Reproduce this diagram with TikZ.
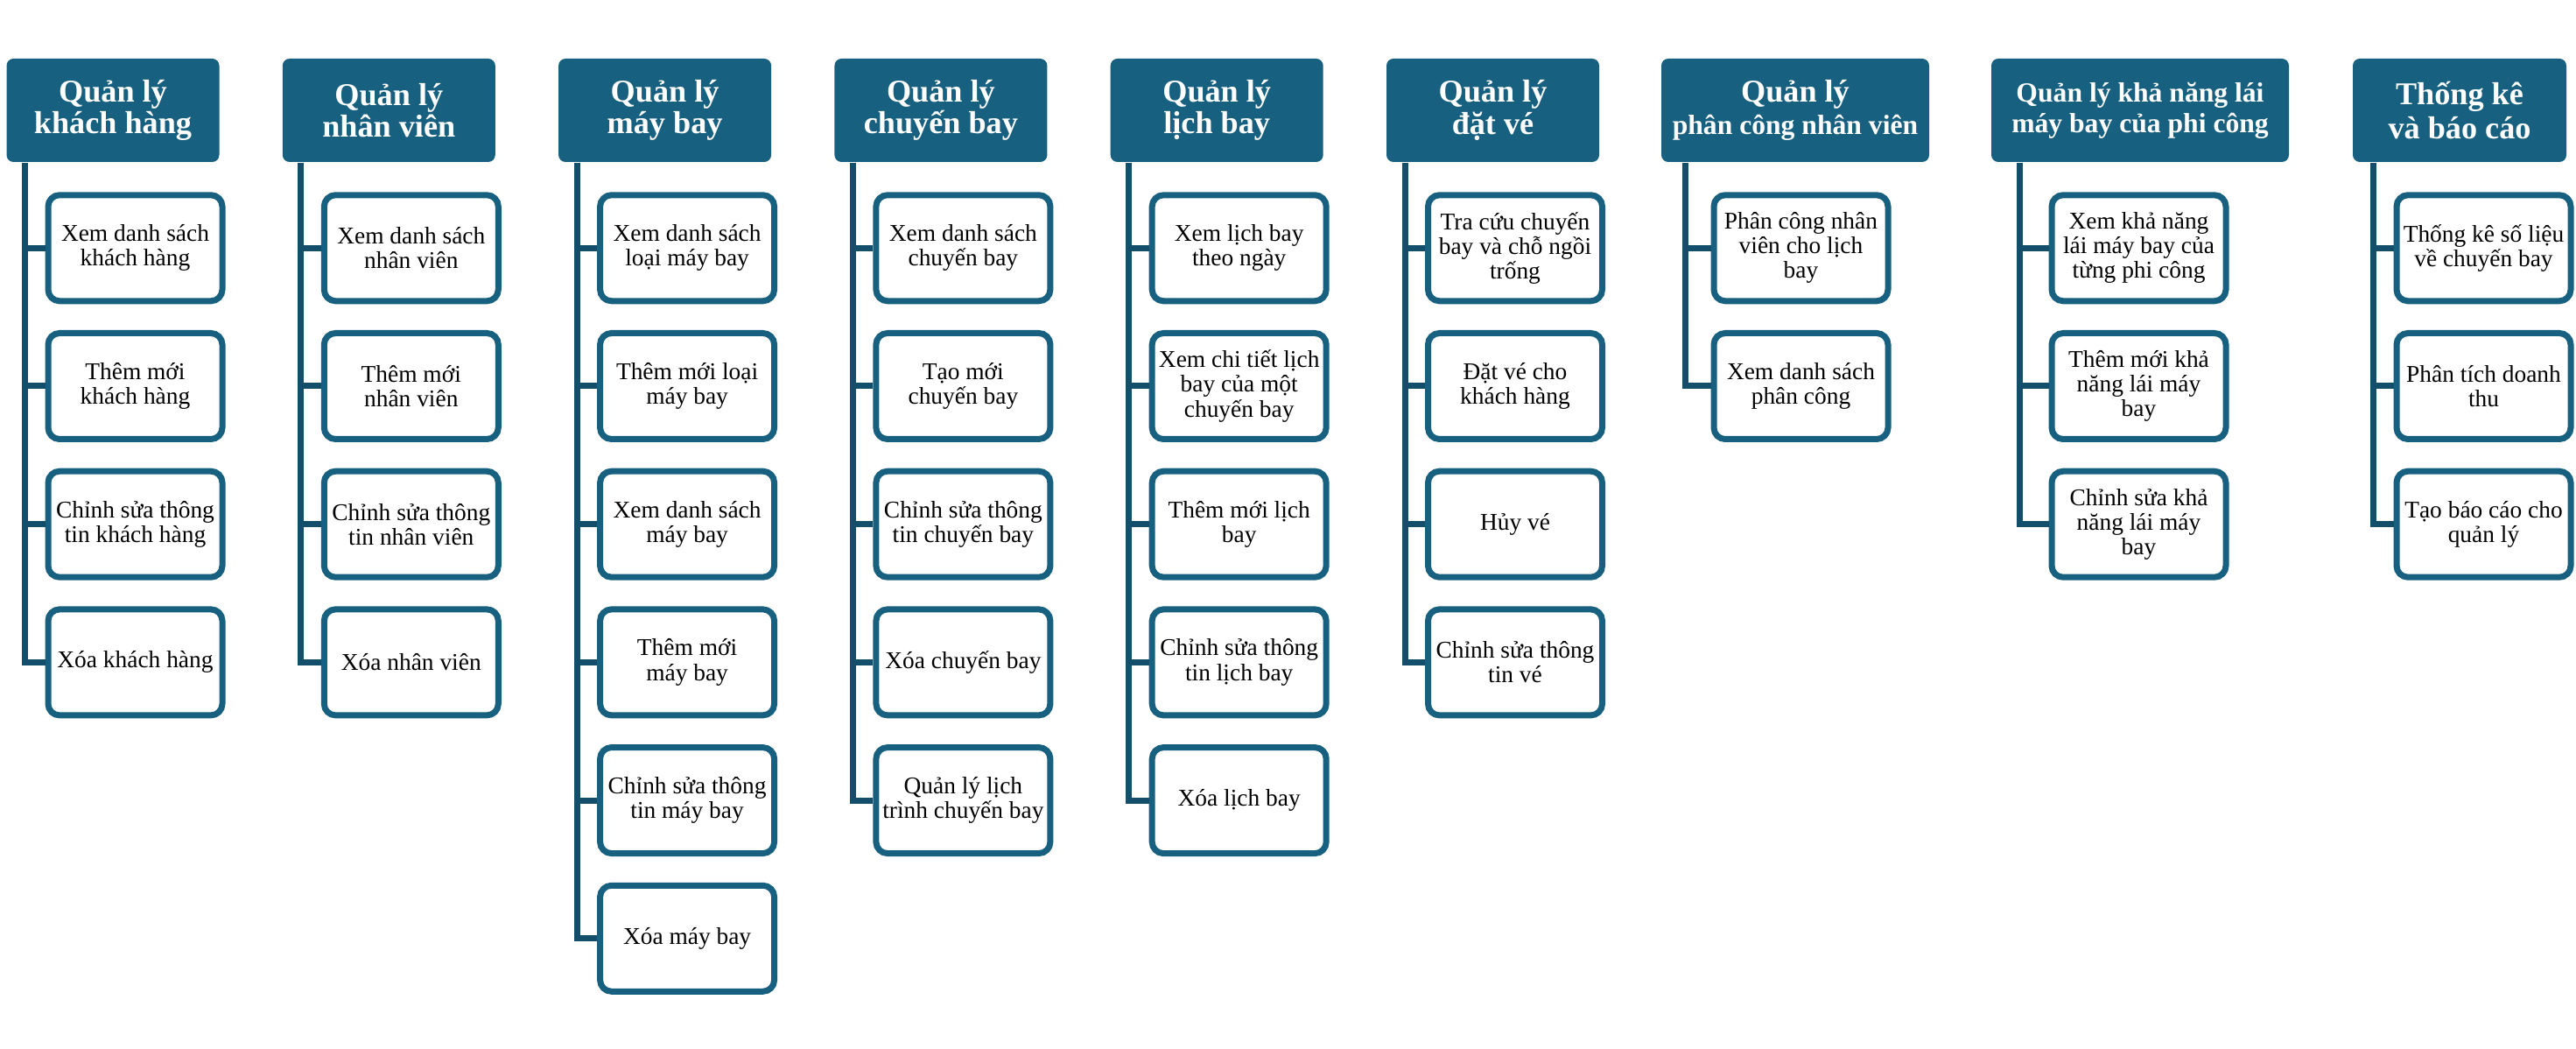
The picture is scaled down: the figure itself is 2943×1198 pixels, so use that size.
\documentclass[tikz,border=0pt]{standalone}
\usepackage{fontspec}
\setmainfont{Liberation Serif}
\definecolor{hdblue}{RGB}{24,96,128}
\definecolor{lnblue}{RGB}{19,78,106}

\begin{document}
\begin{tikzpicture}[x=0.1mm,y=-0.1mm,
		head/.style={fill=hdblue,text=white,rounded corners=0.8mm,minimum width=24.3mm,minimum height=11.8mm,inner sep=1pt,align=center,font=\bfseries\fontsize{10.3}{10.4}\selectfont},
		task/.style={draw=hdblue,line width=0.7mm,fill=white,rounded corners=1.3mm,minimum width=19.9mm,minimum height=12.1mm,inner sep=1pt,align=center,font=\fontsize{7.8}{8}\selectfont},
		link/.style={draw=lnblue,line width=0.7mm}]
		\useasboundingbox (0,0) rectangle (2943,1198);
		\node [head] (h1) at (129,126) {Quản lý\\khách hàng};
		\node [head] (h2) at (444.3,126) {Quản lý\\nhân viên};
		\node [head] (h3) at (759.6,126) {Quản lý\\máy bay};
		\node [head] (h4) at (1074.9,126) {Quản lý\\chuyến bay};
		\node [head] (h5) at (1390.2,126) {Quản lý\\lịch bay};
		\node [head] (h6) at (1705.5,126) {Quản lý\\đặt vé};
		\node [head,minimum width=30.6mm] (h7) at (2051,126) {Quản lý\\{\fontsize{9}{9}\selectfont phân công nhân viên}};
		\node [head,minimum width=34mm,font=\bfseries\fontsize{9}{10}\selectfont] (h8) at (2445,126) {Quản lý khả năng lái\\máy bay của phi công};
		\node [head,minimum width=24.4mm,font=\bfseries\fontsize{10.3}{10.9}\selectfont] (h9) at (2810,126) {Thống kê\\và báo cáo};
		\coordinate (t1) at (28.5,186);
		\coordinate (t2) at (343.8,186);
		\coordinate (t3) at (659.1,186);
		\coordinate (t4) at (974.4,186);
		\coordinate (t5) at (1289.7,186);
		\coordinate (t6) at (1605,186);
		\coordinate (t7) at (1925,186);
		\coordinate (t8) at (2307,186);
		\coordinate (t9) at (2711,186);
		\node [task] (c11) at (154.5,283.3) {Xem danh sách\\khách hàng};
		\node [task] (c12) at (154.5,441) {Thêm mới\\khách hàng};
		\node [task] (c13) at (154.5,598.7) {Chỉnh sửa thông\\tin khách hàng};
		\node [task] (c14) at (154.5,756.4) {Xóa khách hàng};
		\node [task] (c21) at (469.8,283.3) {Xem danh sách\\nhân viên};
		\node [task] (c22) at (469.8,441) {Thêm mới\\nhân viên};
		\node [task] (c23) at (469.8,598.7) {Chỉnh sửa thông\\tin nhân viên};
		\node [task] (c24) at (469.8,756.4) {Xóa nhân viên};
		\node [task] (c31) at (785.1,283.3) {Xem danh sách\\loại máy bay};
		\node [task] (c32) at (785.1,441) {Thêm mới loại\\máy bay};
		\node [task] (c33) at (785.1,598.7) {Xem danh sách\\máy bay};
		\node [task] (c34) at (785.1,756.4) {Thêm mới\\máy bay};
		\node [task] (c35) at (785.1,914.1) {Chỉnh sửa thông\\tin máy bay};
		\node [task] (c36) at (785.1,1071.8) {Xóa máy bay};
		\node [task] (c41) at (1100.4,283.3) {Xem danh sách\\chuyến bay};
		\node [task] (c42) at (1100.4,441) {Tạo mới\\chuyến bay};
		\node [task] (c43) at (1100.4,598.7) {Chỉnh sửa thông\\tin chuyến bay};
		\node [task] (c44) at (1100.4,756.4) {Xóa chuyến bay};
		\node [task] (c45) at (1100.4,914.1) {Quản lý lịch\\trình chuyến bay};
		\node [task] (c51) at (1415.7,283.3) {Xem lịch bay\\theo ngày};
		\node [task] (c52) at (1415.7,441) {Xem chi tiết lịch\\bay của một\\chuyến bay};
		\node [task] (c53) at (1415.7,598.7) {Thêm mới lịch\\bay};
		\node [task] (c54) at (1415.7,756.4) {Chỉnh sửa thông\\tin lịch bay};
		\node [task] (c55) at (1415.7,914.1) {Xóa lịch bay};
		\node [task] (c61) at (1731,283.3) {Tra cứu chuyến\\bay và chỗ ngồi\\trống};
		\node [task] (c62) at (1731,441) {Đặt vé cho\\khách hàng};
		\node [task] (c63) at (1731,598.7) {Hủy vé};
		\node [task] (c64) at (1731,756.4) {Chỉnh sửa thông\\tin vé};
		\node [task] (c71) at (2057.5,283.3) {Phân công nhân\\viên cho lịch\\bay};
		\node [task] (c72) at (2057.5,441) {Xem danh sách\\phân công};
		\node [task] (c81) at (2443.5,283.3) {Xem khả năng\\lái máy bay của\\từng phi công};
		\node [task] (c82) at (2443.5,441) {Thêm mới khả\\năng lái máy\\bay};
		\node [task] (c83) at (2443.5,598.7) {Chỉnh sửa khả\\năng lái máy\\bay};
		\node [task] (c91) at (2837.5,283.3) {Thống kê số liệu\\về chuyến bay};
		\node [task] (c92) at (2837.5,441) {Phân tích doanh\\thu};
		\node [task] (c93) at (2837.5,598.7) {Tạo báo cáo cho\\quản lý};
		\draw [link] (t1) |- (c11.west);
		\draw [link] (t1) |- (c12.west);
		\draw [link] (t1) |- (c13.west);
		\draw [link] (t1) |- (c14.west);
		\draw [link] (t2) |- (c21.west);
		\draw [link] (t2) |- (c22.west);
		\draw [link] (t2) |- (c23.west);
		\draw [link] (t2) |- (c24.west);
		\draw [link] (t3) |- (c31.west);
		\draw [link] (t3) |- (c32.west);
		\draw [link] (t3) |- (c33.west);
		\draw [link] (t3) |- (c34.west);
		\draw [link] (t3) |- (c35.west);
		\draw [link] (t3) |- (c36.west);
		\draw [link] (t4) |- (c41.west);
		\draw [link] (t4) |- (c42.west);
		\draw [link] (t4) |- (c43.west);
		\draw [link] (t4) |- (c44.west);
		\draw [link] (t4) |- (c45.west);
		\draw [link] (t5) |- (c51.west);
		\draw [link] (t5) |- (c52.west);
		\draw [link] (t5) |- (c53.west);
		\draw [link] (t5) |- (c54.west);
		\draw [link] (t5) |- (c55.west);
		\draw [link] (t6) |- (c61.west);
		\draw [link] (t6) |- (c62.west);
		\draw [link] (t6) |- (c63.west);
		\draw [link] (t6) |- (c64.west);
		\draw [link] (t7) |- (c71.west);
		\draw [link] (t7) |- (c72.west);
		\draw [link] (t8) |- (c81.west);
		\draw [link] (t8) |- (c82.west);
		\draw [link] (t8) |- (c83.west);
		\draw [link] (t9) |- (c91.west);
		\draw [link] (t9) |- (c92.west);
		\draw [link] (t9) |- (c93.west);
\end{tikzpicture}
\end{document}
